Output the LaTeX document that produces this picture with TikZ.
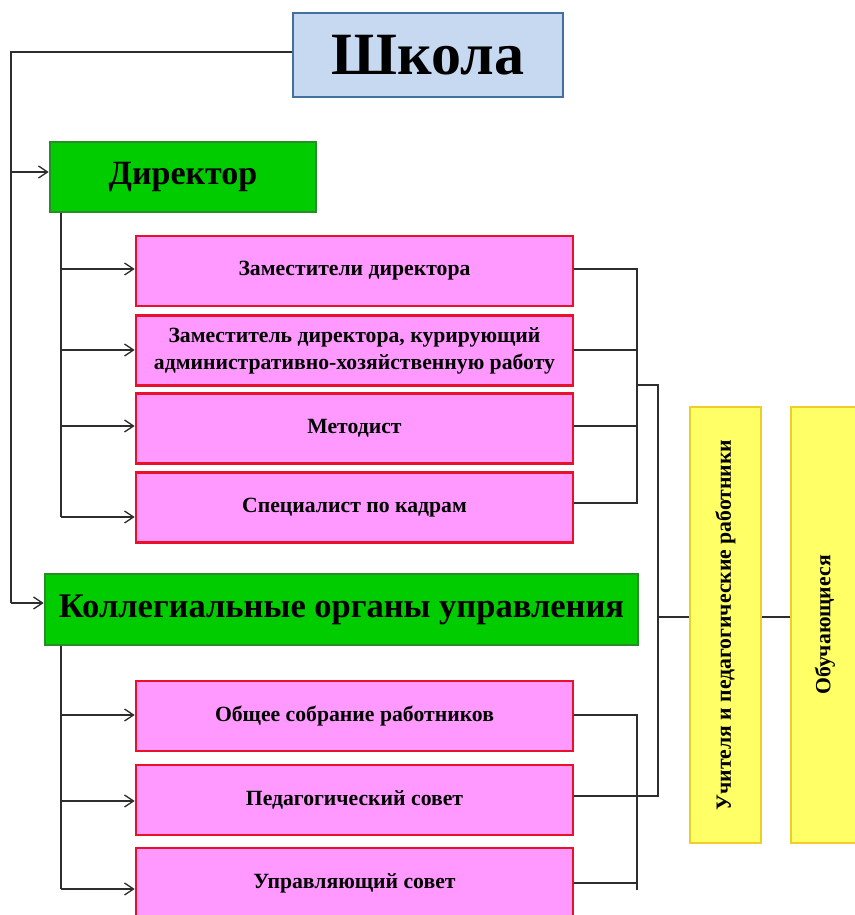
\documentclass[tikz,border=0pt]{standalone}
\usepackage{fontspec}
\setmainfont{Liberation Serif}
\usetikzlibrary{arrows.meta}
\definecolor{gfill}{RGB}{0,204,0}
\definecolor{gline}{RGB}{40,140,40}
\definecolor{pfill}{RGB}{255,153,255}
\definecolor{pline}{RGB}{232,16,42}
\definecolor{bfill}{RGB}{198,217,241}
\definecolor{bline}{RGB}{65,113,156}
\definecolor{yfill}{RGB}{255,255,102}
\definecolor{yline}{RGB}{240,205,40}
\definecolor{conn}{RGB}{45,45,45}
\tikzset{
  box/.style={rectangle, inner sep=0pt, line width=2.6pt, font=\bfseries, align=center},
  schoolbox/.style={box, fill=bfill, draw=bline, minimum width=270, minimum height=84, font=\bfseries\fontsize{60}{60}\selectfont},
  greenbox/.style={box, fill=gfill, draw=gline, minimum height=70},
  pinkbox/.style={box, fill=pfill, draw=pline, minimum width=437, minimum height=70, font=\bfseries\fontsize{21.7}{27}\selectfont},
  yellowbox/.style={box, fill=yfill, draw=yline, minimum width=436, rotate=90, font=\bfseries\fontsize{21.7}{24}\selectfont},
  ln/.style={draw=conn, line width=1.3pt},
  arr/.style={ln, -{Straight Barb[length=9pt,width=12pt,line width=1.3pt]}}
}
\begin{document}
\begin{tikzpicture}[x=1pt,y=-1pt]
\useasboundingbox (0,0) rectangle (854,915);
\node[schoolbox] (s) at (428,55) {Школа};
\node[greenbox, minimum width=266, font=\bfseries\fontsize{34}{34}\selectfont] (d) at (183,177) {Директор};
\node[greenbox, minimum width=593, minimum height=71, font=\bfseries\fontsize{34.5}{34.5}\selectfont] (k) at (341.5,609.5) {Коллегиальные органы управления};
\node[pinkbox] (z1) at (354.5,271) {Заместители директора};
\node[pinkbox] (z2) at (354.5,350.5) {Заместитель директора, курирующий\\административно-хозяйственную работу};
\node[pinkbox] (z3) at (354.5,428.5) {Методист};
\node[pinkbox] (z4) at (354.5,507.5) {Специалист по кадрам};
\node[pinkbox] (z5) at (354.5,716) {Общее собрание работников};
\node[pinkbox] (z6) at (354.5,800) {Педагогический совет};
\node[pinkbox] (z7) at (354.5,883) {Управляющий совет};
\node[yellowbox, minimum height=71] (y1) at (725.5,625) {Учителя и педагогические работники};
\node[yellowbox, minimum height=68] (y2) at (825,625) {Обучающиеся};
% school to director / collegial
\coordinate (c0) at (11,52);
\coordinate (c1) at (11,172);
\coordinate (c2) at (11,603);
\draw[ln] (s.west |- c0) -- (c0) -- (c2);
\draw[arr] (c1) -- (c1 -| d.west);
\draw[arr] (c2) -- (c2 -| k.west);
% director spine
\coordinate (a1) at (61,269);
\coordinate (a2) at (61,350);
\coordinate (a3) at (61,426);
\coordinate (a4) at (61,517);
\draw[ln] (d.south -| a1) -- (a4);
\draw[arr] (a1) -- (a1 -| z1.west);
\draw[arr] (a2) -- (a2 -| z2.west);
\draw[arr] (a3) -- (a3 -| z3.west);
\draw[arr] (a4) -- (a4 -| z4.west);
% collegial spine
\coordinate (b1) at (61,715);
\coordinate (b2) at (61,801);
\coordinate (b3) at (61,889);
\draw[ln] (k.south -| b1) -- (b3);
\draw[arr] (b1) -- (b1 -| z5.west);
\draw[arr] (b2) -- (b2 -| z6.west);
\draw[arr] (b3) -- (b3 -| z7.west);
% right brackets
\coordinate (r1) at (637,269);
\coordinate (r2) at (637,350);
\coordinate (r3) at (637,426);
\coordinate (r4) at (637,503);
\draw[ln] (z1.east |- r1) -- (r1) -- (r4) -- (z4.east |- r4);
\draw[ln] (z2.east |- r2) -- (r2);
\draw[ln] (z3.east |- r3) -- (r3);
\coordinate (q1) at (637,715);
\coordinate (q3) at (637,883);
\coordinate (q4) at (637,890);
\draw[ln] (z5.east |- q1) -- (q1) -- (q4);
\draw[ln] (z7.east |- q3) -- (q3);
\coordinate (h0) at (637,385);
\coordinate (h1) at (658,385);
\coordinate (h2) at (658,796);
\coordinate (hub) at (658,617);
\draw[ln] (h0) -- (h1) -- (h2) -- (z6.east |- h2);
\draw[ln] (hub) -- (hub -| y1.north);
\draw[ln] (y1.south |- hub) -- (y2.north |- hub);
\end{tikzpicture}
\end{document}
